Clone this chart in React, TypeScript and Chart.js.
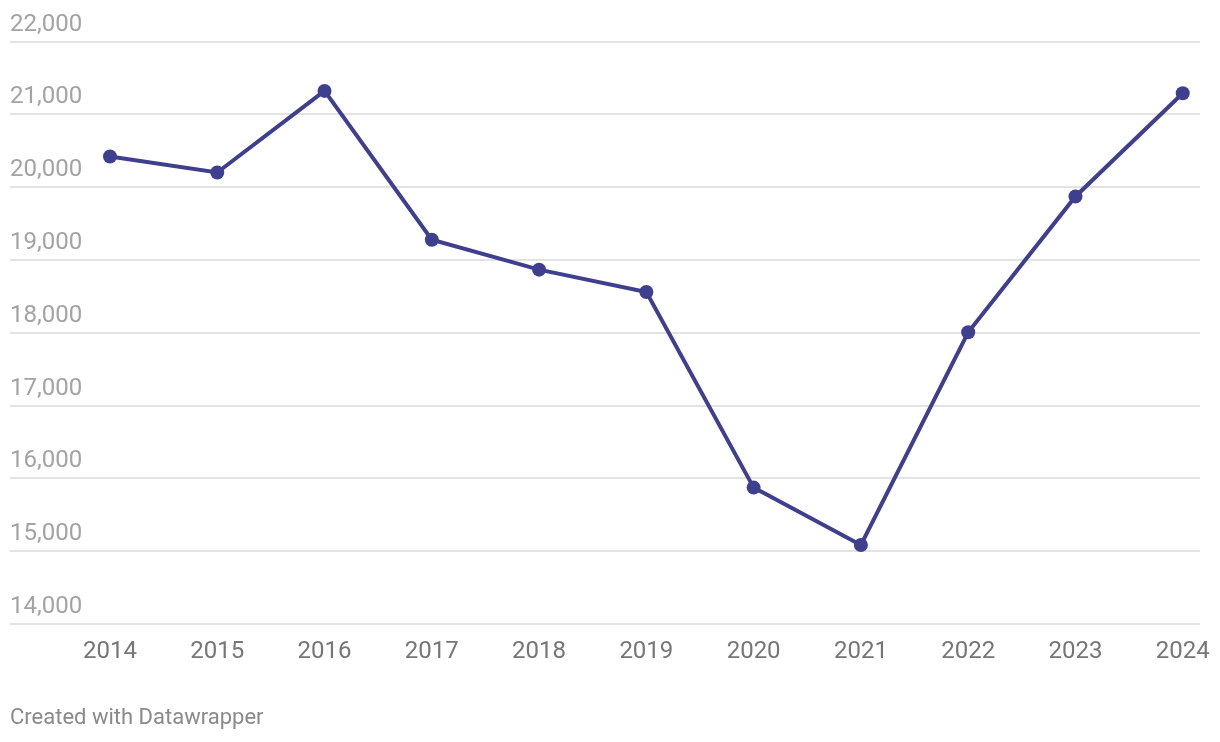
import React, { useEffect, useRef } from "react";
import { Chart, registerables } from "chart.js";

Chart.register(...registerables);

const years = [2014, 2015, 2016, 2017, 2018, 2019, 2020, 2021, 2022, 2023, 2024];
const values = [20423, 20203, 21324, 19280, 18868, 18562, 15874, 15086, 18008, 19874, 21292];
const yMin = 14000;
const yMax = 22000;
const yStep = 1000;
const footerText = "Created with Datawrapper";

const LINE_COLOR = "#3f3f8f";

export default function App() {
  const ref = useRef<HTMLCanvasElement | null>(null);

  useEffect(() => {
    if (!ref.current) return;
    const footerPlugin = {
      id: "footer",
      afterDraw(chart: any) {
        const ctx = chart.ctx;
        ctx.save();
        ctx.font = "22px Roboto";
        ctx.fillStyle = "#8a8a8a";
        ctx.textAlign = "left";
        ctx.textBaseline = "alphabetic";
        ctx.fillText(footerText, 10, 724);
        ctx.restore();
      },
    };
    const chart = new Chart(ref.current, {
      type: "line",
      data: {
        datasets: [
          {
            data: years.map((y, i) => ({ x: y, y: values[i] })),
            borderColor: LINE_COLOR,
            backgroundColor: LINE_COLOR,
            borderWidth: 4,
            pointRadius: 7,
            pointBackgroundColor: LINE_COLOR,
            pointBorderWidth: 0,
            tension: 0,
          },
        ],
      },
      options: {
        animation: false,
        responsive: false,
        maintainAspectRatio: false,
        layout: { padding: { left: 10, right: 20, top: 41.7, bottom: 0 } },
        plugins: { legend: { display: false }, tooltip: { enabled: false } },
        scales: {
          x: {
            type: "linear",
            min: 2013.068,
            max: 2024.161,
            grid: { display: false, drawTicks: false },
            border: { display: false },
            ticks: {
              color: "#767676",
              font: { family: "Roboto", size: 24 },
              padding: 14,
              maxRotation: 0,
              autoSkip: false,
              callback: (v: any) => String(v),
            },
            afterBuildTicks: (s: any) => {
              s.ticks = years.map((v) => ({ value: v }));
            },
            afterFit: (s: any) => {
              s.height = 742 - 624;
              s.paddingLeft = 0;
              s.paddingRight = 0;
            },
          },
          y: {
            min: yMin,
            max: yMax,
            grid: { color: "#e3e3e3", lineWidth: 2, drawTicks: false },
            border: { display: false },
            ticks: {
              stepSize: yStep,
              mirror: true,
              padding: 0,
              labelOffset: -17,
              color: "#a3a3a3",
              font: { family: "Roboto", size: 24 },
              callback: (v: any) => Number(v).toLocaleString("en-US"),
            },
            afterFit: (s: any) => {
              s.paddingTop = 0;
              s.paddingBottom = 0;
            },
          },
        },
      },
      plugins: [footerPlugin],
    });
    return () => chart.destroy();
  }, []);

  return (
    <div style={{ position: "fixed", left: 0, top: 0, width: 1220, height: 742, background: "#fff" }}>
      <canvas ref={ref} width={1220} height={742} style={{ width: 1220, height: 742 }} />
    </div>
  );
}
